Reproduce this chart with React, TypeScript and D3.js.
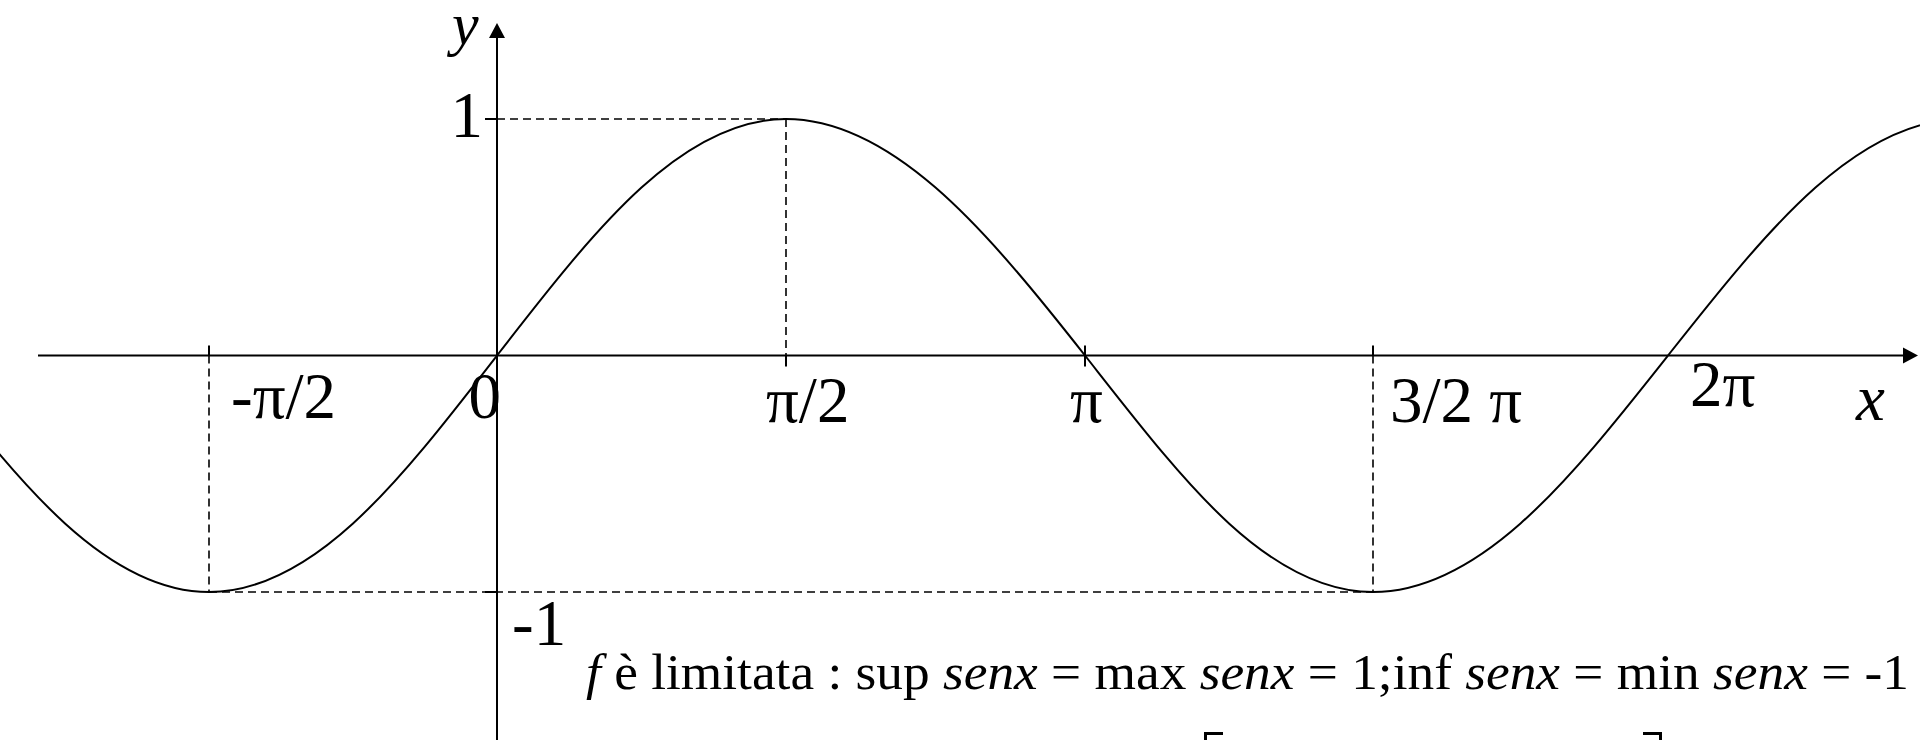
import React from "react";
import * as d3 from "d3";

// sampled curve, x in multiples of pi
const curveXPi = [-1, -0.75, -0.5, -0.25, 0, 0.25, 0.5, 0.75, 1, 1.25, 1.5, 1.75, 2, 2.25, 2.5, 2.75, 3];
const curveY = [0, -0.71, -1, -0.71, 0, 0.71, 1, 0.71, 0, -0.71, -1, -0.71, 0, 0.71, 1, 0.71, 0];

// x ticks (multiples of pi) and labels
const xTicksPi = [-0.5, 0, 0.5, 1, 1.5, 2];
const xTickLabels = ["-\u03c0/2", "0", "\u03c0/2", "\u03c0", "3/2 \u03c0", "2\u03c0"];
const yTickValues = [1, -1];
const yTickLabels = ["1", "-1"];

const formulaParts = [
  { t: "f", it: true },
  { t: " \u00e8 limitata : sup  ", it: false },
  { t: "senx", it: true },
  { t: " = max ", it: false },
  { t: "senx", it: true },
  { t: " = 1;inf ", it: false },
  { t: "senx", it: true },
  { t: " = min ", it: false },
  { t: "senx", it: true },
  { t: " = -1", it: false }
];

const layout = { width: 1920, height: 740 };
const font = "'Liberation Serif', 'Times New Roman', serif";

// label placement tweaks (dx from tick, baseline y)
const xLabelPos = [
  { dx: 22, y: 418, anchor: "start" },
  { dx: 4, y: 418, anchor: "end" },
  { dx: -20, y: 422, anchor: "start" },
  { dx: -15, y: 422, anchor: "start" },
  { dx: 17, y: 422, anchor: "start" },
  { dx: 22, y: 406, anchor: "start" }
];

const App = () => {
  // hand-drawn original: piecewise linear x scale
  const xScale = d3
    .scaleLinear()
    .domain([-0.5, 0, 0.5, 1, 1.5, 2])
    .range([209, 497, 786, 1085, 1373, 1668]);
  const yScale = d3.scaleLinear().domain([-1, 1]).range([592, 119]);

  const x0 = xScale(0);
  const y0 = yScale(0);

  const points = curveXPi.map((x, i) => [xScale(x), yScale(curveY[i])] as [number, number]);
  const lineGenerator = d3.line().curve(d3.curveNatural);
  const curvePath = lineGenerator(points);

  const dash = "8 5";
  const stroke = "#000";

  return (
    <svg
      width={layout.width}
      height={layout.height}
      style={{ position: "absolute", left: 0, top: 0, background: "#fff" }}
    >
      {/* x axis */}
      <line x1={38} y1={y0} x2={1905} y2={y0} stroke={stroke} strokeWidth={2} />
      <path d={`M1918,${y0} L1903,${y0 - 8} L1903,${y0 + 8} Z`} fill={stroke} />
      {/* y axis */}
      <line x1={x0} y1={36} x2={x0} y2={layout.height} stroke={stroke} strokeWidth={2} />
      <path d={`M${x0},23 L${x0 - 8},38 L${x0 + 8},38 Z`} fill={stroke} />

      {/* dashed guides */}
      <line x1={x0} y1={yScale(1)} x2={xScale(0.5)} y2={yScale(1)} stroke={stroke} strokeWidth={1.6} strokeDasharray={dash} />
      <line x1={xScale(0.5)} y1={yScale(1)} x2={xScale(0.5)} y2={y0} stroke={stroke} strokeWidth={1.6} strokeDasharray={dash} />
      <line x1={xScale(-0.5)} y1={y0} x2={xScale(-0.5)} y2={yScale(-1)} stroke={stroke} strokeWidth={1.6} strokeDasharray={dash} />
      <line x1={xScale(1.5)} y1={y0} x2={xScale(1.5)} y2={yScale(-1)} stroke={stroke} strokeWidth={1.6} strokeDasharray={dash} />
      <line x1={xScale(-0.5)} y1={yScale(-1)} x2={xScale(1.5)} y2={yScale(-1)} stroke={stroke} strokeWidth={1.6} strokeDasharray={dash} />

      {/* ticks */}
      {[-0.5, 1, 1.5].map(v => (
        <line key={`ta${v}`} x1={xScale(v)} y1={y0 - 10} x2={xScale(v)} y2={y0} stroke={stroke} strokeWidth={2} />
      ))}
      {[0.5, 1].map(v => (
        <line key={`tb${v}`} x1={xScale(v)} y1={y0} x2={xScale(v)} y2={y0 + 11} stroke={stroke} strokeWidth={2} />
      ))}
      {yTickValues.map(v => (
        <line key={`ty${v}`} x1={x0 - 12} y1={yScale(v)} x2={x0} y2={yScale(v)} stroke={stroke} strokeWidth={2} />
      ))}

      {/* curve */}
      <path d={curvePath} fill="none" stroke={stroke} strokeWidth={2} />

      {/* labels */}
      <g fontFamily={font} fontSize={65} fill={stroke}>
        {xTicksPi.map((v, i) => (
          <text key={`lx${i}`} x={xScale(v) + xLabelPos[i].dx} y={xLabelPos[i].y} textAnchor={xLabelPos[i].anchor}>
            {xTickLabels[i]}
          </text>
        ))}
        <text x={x0 - 14} y={137} textAnchor="end">{yTickLabels[0]}</text>
        <text x={x0 + 15} y={645}>{yTickLabels[1]}</text>
        <text x={1856} y={420} fontStyle="italic">x</text>
        <text x={452} y={44} fontSize={60} fontStyle="italic">y</text>
      </g>

      {/* formula */}
      <text x={586} y={689} fontFamily={font} fontSize={50} fill={stroke} textLength={1323} lengthAdjust="spacingAndGlyphs">
        {formulaParts.map((p, i) => (
          <tspan key={i} fontStyle={p.it ? "italic" : "normal"}>{p.t}</tspan>
        ))}
      </text>

      {/* tops of cut-off brackets */}
      <path d="M1223,733.5 H1205.5 V745" fill="none" stroke={stroke} strokeWidth={3} />
      <path d="M1643,733.5 H1660.5 V745" fill="none" stroke={stroke} strokeWidth={3} />
    </svg>
  );
};

export default App;
